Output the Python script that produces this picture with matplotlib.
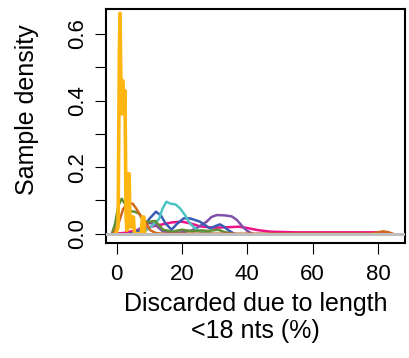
import matplotlib
matplotlib.use("Agg")
import matplotlib.pyplot as plt

plt.rcParams['font.family'] = ['Liberation Sans', 'DejaVu Sans']

# density curves (x = % discarded, y = density)
pink_x = [-0.5, 2, 5, 8, 11, 14, 17, 20, 22.5, 25.5, 29.5, 33, 37.5, 40, 43, 47, 55, 65, 75, 81, 84]
pink_y = [0.0, 0.002, 0.008, 0.015, 0.022, 0.028, 0.034, 0.036, 0.031, 0.022, 0.018, 0.019, 0.021, 0.017, 0.011, 0.006, 0.004, 0.004, 0.004, 0.004, 0.0]

purple_x = [5, 7, 9, 10.5, 12, 14, 17, 20, 23, 25, 27.5, 29, 30.6, 33, 35.2, 36.7, 38.5, 40, 41.5]
purple_y = [0.0, 0.015, 0.03, 0.032, 0.025, 0.008, 0.002, 0.004, 0.01, 0.02, 0.036, 0.05, 0.056, 0.055, 0.052, 0.042, 0.022, 0.008, 0.0]

blue_x = [4, 6, 8, 10, 12, 13.5, 15, 16.8, 18.5, 20.5, 22.4, 24, 25.5, 27, 28.6, 30, 31.6, 33, 34.2, 36]
blue_y = [0.0, 0.004, 0.015, 0.045, 0.066, 0.055, 0.03, 0.012, 0.03, 0.046, 0.046, 0.041, 0.036, 0.026, 0.016, 0.022, 0.028, 0.02, 0.01, 0.0]

cyan_x = [7, 9, 11, 13, 14, 15.2, 16.5, 18, 19.4, 20.9, 22.4, 24, 25.5, 27.5, 29]
cyan_y = [0.0, 0.01, 0.025, 0.045, 0.075, 0.096, 0.09, 0.088, 0.076, 0.056, 0.031, 0.016, 0.006, 0.002, 0.0]

green_x = [-1.5, -0.5, 0.5, 1.5, 2.5, 3.9, 5.5, 6.9, 8, 9.5, 11.7, 13, 14.2, 17, 20, 23, 26, 28, 31, 33, 35]
green_y = [0.0, 0.03, 0.085, 0.105, 0.09, 0.068, 0.066, 0.06, 0.04, 0.035, 0.038, 0.025, 0.012, 0.006, 0.012, 0.007, 0.01, 0.008, 0.012, 0.005, 0.0]

orange_x = [-1, 0.5, 2, 3.4, 4.9, 6, 6.9, 8, 9, 10.3, 12, 14, 78, 80, 81.5, 83, 84.5]
orange_y = [0.0, 0.03, 0.075, 0.091, 0.09, 0.075, 0.06, 0.045, 0.031, 0.01, 0.002, 0.0, 0.0, 0.004, 0.007, 0.005, 0.0]

yellow_x = [-0.3, 0.4, 0.8, 1.0, 1.2, 1.5, 1.8, 2.2, 2.5, 2.85, 3.1, 3.4, 3.8, 4.05, 4.3, 4.6, 4.85, 5.1, 5.4, 6.0, 7.5, 7.9, 8.3, 8.6]
yellow_y = [0.0, 0.02, 0.55, 0.662, 0.5, 0.36, 0.46, 0.36, 0.43, 0.05, 0.01, 0.18, 0.18, 0.02, 0.02, 0.05, 0.03, 0.05, 0.0, 0.0, 0.0, 0.05, 0.05, 0.0]

series = [
    (pink_x, pink_y, '#EE1289', 1.8),
    (purple_x, purple_y, '#8050AA', 1.8),
    (blue_x, blue_y, '#3A5CB4', 1.8),
    (cyan_x, cyan_y, '#4CC4C4', 1.8),
    (green_x, green_y, '#5F8F32', 1.8),
    (orange_x, orange_y, '#D2691E', 1.8),
    (yellow_x, yellow_y, '#FFB612', 2.6),
]

fig = plt.figure(figsize=(4.09, 3.58), dpi=100)
ax = fig.add_axes([106/409, 1 - 243/358, 299/409, 234/358])

for xs, ys, col, lw in series:
    ax.plot(xs, ys, color=col, lw=lw, solid_joinstyle='round')

ax.axhline(0, color='#BEBEBE', lw=2.2, zorder=5)

ax.set_xlim(-3.3, 88.3)
ax.set_ylim(-0.028, 0.675)
ax.set_xticks([0, 20, 40, 60, 80])
ax.set_yticks([0.0, 0.1, 0.2, 0.3, 0.4, 0.5, 0.6])
ax.set_yticklabels(['0.0', '', '0.2', '', '0.4', '', '0.6'], rotation=90, va='center')
ax.tick_params(direction='out', length=8, width=0.8, labelsize=16, pad=7)
ax.tick_params(axis='y', pad=5)
for s in ax.spines.values():
    s.set_linewidth(1.5)

ax.set_xlabel('Discarded due to length\n<18 nts (%)', fontsize=18, linespacing=1.15)
ax.set_ylabel('Sample density', fontsize=18)
ax.xaxis.set_label_coords(0.5, -0.209)
ax.yaxis.set_label_coords(-0.224, 0.57)

fig.savefig('out.png', dpi=100)
